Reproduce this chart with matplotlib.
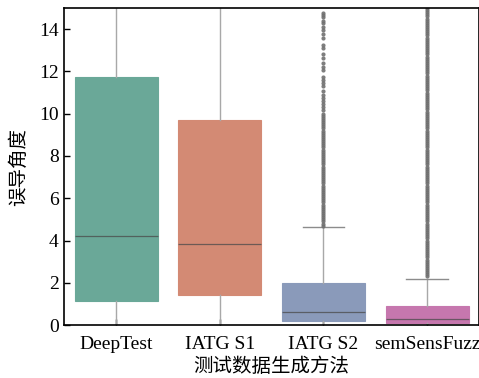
import numpy as np
import matplotlib
matplotlib.use("Agg")
import matplotlib.pyplot as plt

plt.rcParams['font.family'] = ['Liberation Serif', 'Noto Sans CJK SC']

methods = ['DeepTest', 'IATG S1', 'IATG S2', 'semSensFuzz']
q1 = [1.15, 1.42, 0.18, 0.08]
med = [4.2, 3.83, 0.62, 0.30]
q3 = [11.75, 9.72, 2.0, 0.92]
whislo = [0.0, 0.0, 0.0, 0.0]
whishi = [25.0, 25.0, 4.62, 2.2]
colors = ['#6aa898', '#d38a74', '#8a9aba', '#c677ae']

fliers_s2 = [4.7, 4.8, 4.9, 5.0, 5.1, 5.2, 5.3, 5.4, 5.5, 5.6, 5.7, 5.8, 5.9,
             6.0, 6.1, 6.2, 6.3, 6.4, 6.5, 6.6, 6.7, 6.8, 6.9, 7.0, 7.1, 7.2,
             7.3, 7.4, 7.5, 7.6, 7.7, 7.8, 7.9, 8.0, 8.1, 8.2, 8.3, 8.4, 8.5,
             8.6, 8.7, 8.8, 8.9, 9.0, 9.1, 9.2, 9.3, 9.4, 9.5, 9.6, 9.7, 9.8,
             9.9, 10.0, 10.15, 10.3, 10.45, 10.6, 10.75, 10.9, 11.05, 11.3,
             11.45, 11.6, 11.75, 12.05, 12.2, 12.4, 12.65, 12.8, 13.1, 13.25,
             13.6, 13.75, 13.95, 14.1, 14.3, 14.4, 14.55, 14.65, 14.75]
fliers_ssf = [2.3, 2.4, 2.5, 2.6, 2.7, 2.8, 2.9, 3.0, 3.1, 3.2, 3.3, 3.4, 3.5,
              3.6, 3.7, 3.8, 3.9, 4.0, 4.1, 4.2, 4.3, 4.4, 4.5, 4.6, 4.7, 4.8,
              4.9, 5.0, 5.1, 5.2, 5.3, 5.4, 5.5, 5.6, 5.7, 5.8, 5.9, 6.0, 6.1,
              6.2, 6.3, 6.4, 6.5, 6.6, 6.7, 6.8, 6.9, 7.0, 7.1, 7.2, 7.3, 7.4,
              7.5, 7.6, 7.7, 7.8, 7.9, 8.0, 8.1, 8.2, 8.3, 8.4, 8.5, 8.6, 8.7,
              8.8, 8.9, 9.0, 9.1, 9.2, 9.3, 9.4, 9.5, 9.6, 9.7, 9.8, 9.9, 10.0,
              10.1, 10.2, 10.3, 10.4, 10.5, 10.6, 10.7, 10.8, 10.9, 11.0, 11.1,
              11.2, 11.3, 11.4, 11.5, 11.6, 11.7, 11.8, 11.9, 12.0, 12.1, 12.2,
              12.3, 12.4, 12.5, 12.6, 12.7, 12.8, 12.9, 13.0, 13.1, 13.2, 13.3,
              13.4, 13.5, 13.6, 13.7, 13.8, 13.9, 14.0, 14.1, 14.2, 14.3, 14.4,
              14.5, 14.6, 14.7, 14.8, 14.9, 15.0, 15.1]
fliers = [[], [], fliers_s2, fliers_ssf]

stats = []
for i in range(len(methods)):
    stats.append({'q1': q1[i], 'med': med[i], 'q3': q3[i],
                  'whislo': whislo[i], 'whishi': whishi[i],
                  'fliers': fliers[i], 'label': methods[i]})

fig = plt.figure(figsize=(4.79, 3.78), dpi=100)
ax = fig.add_axes([0.134, 0.140, 0.866, 0.839])

bp = ax.bxp(stats, positions=range(len(methods)), widths=0.8, patch_artist=True,
            boxprops=dict(linewidth=0.8),
            medianprops=dict(color='#4a4a4a', linewidth=0.9, alpha=0.75),
            whiskerprops=dict(color='#a8a8a8', linewidth=1.0),
            capprops=dict(color='#8c8c8c', linewidth=1.0),
            flierprops=dict(marker='o', markersize=3.0, markerfacecolor='#707070',
                            markeredgecolor='none', alpha=0.9))
for patch, c in zip(bp['boxes'], colors):
    patch.set_facecolor(c)
    patch.set_edgecolor(c)
# lower caps sit on the axis and the upper ones of the first two are off-chart
for i, cap in enumerate(bp['caps']):
    if i % 2 == 0 or i < 4:
        cap.set_visible(False)

ax.set_xlim(-0.5, 3.5)
ax.set_ylim(0, 15)
ax.set_yticks([0, 2, 4, 6, 8, 10, 12, 14])
ax.set_xticks(range(len(methods)))
ax.set_xticklabels(methods)
ax.tick_params(direction='in', length=4, width=1, labelsize=14, pad=4)
ax.tick_params(axis='x', pad=8)
for s in ax.spines.values():
    s.set_linewidth(1.2)
ax.set_ylabel('误导角度', fontsize=14, labelpad=8)
ax.set_xlabel('测试数据生成方法', fontsize=14, labelpad=3)

fig.savefig('out.png', dpi=100)
